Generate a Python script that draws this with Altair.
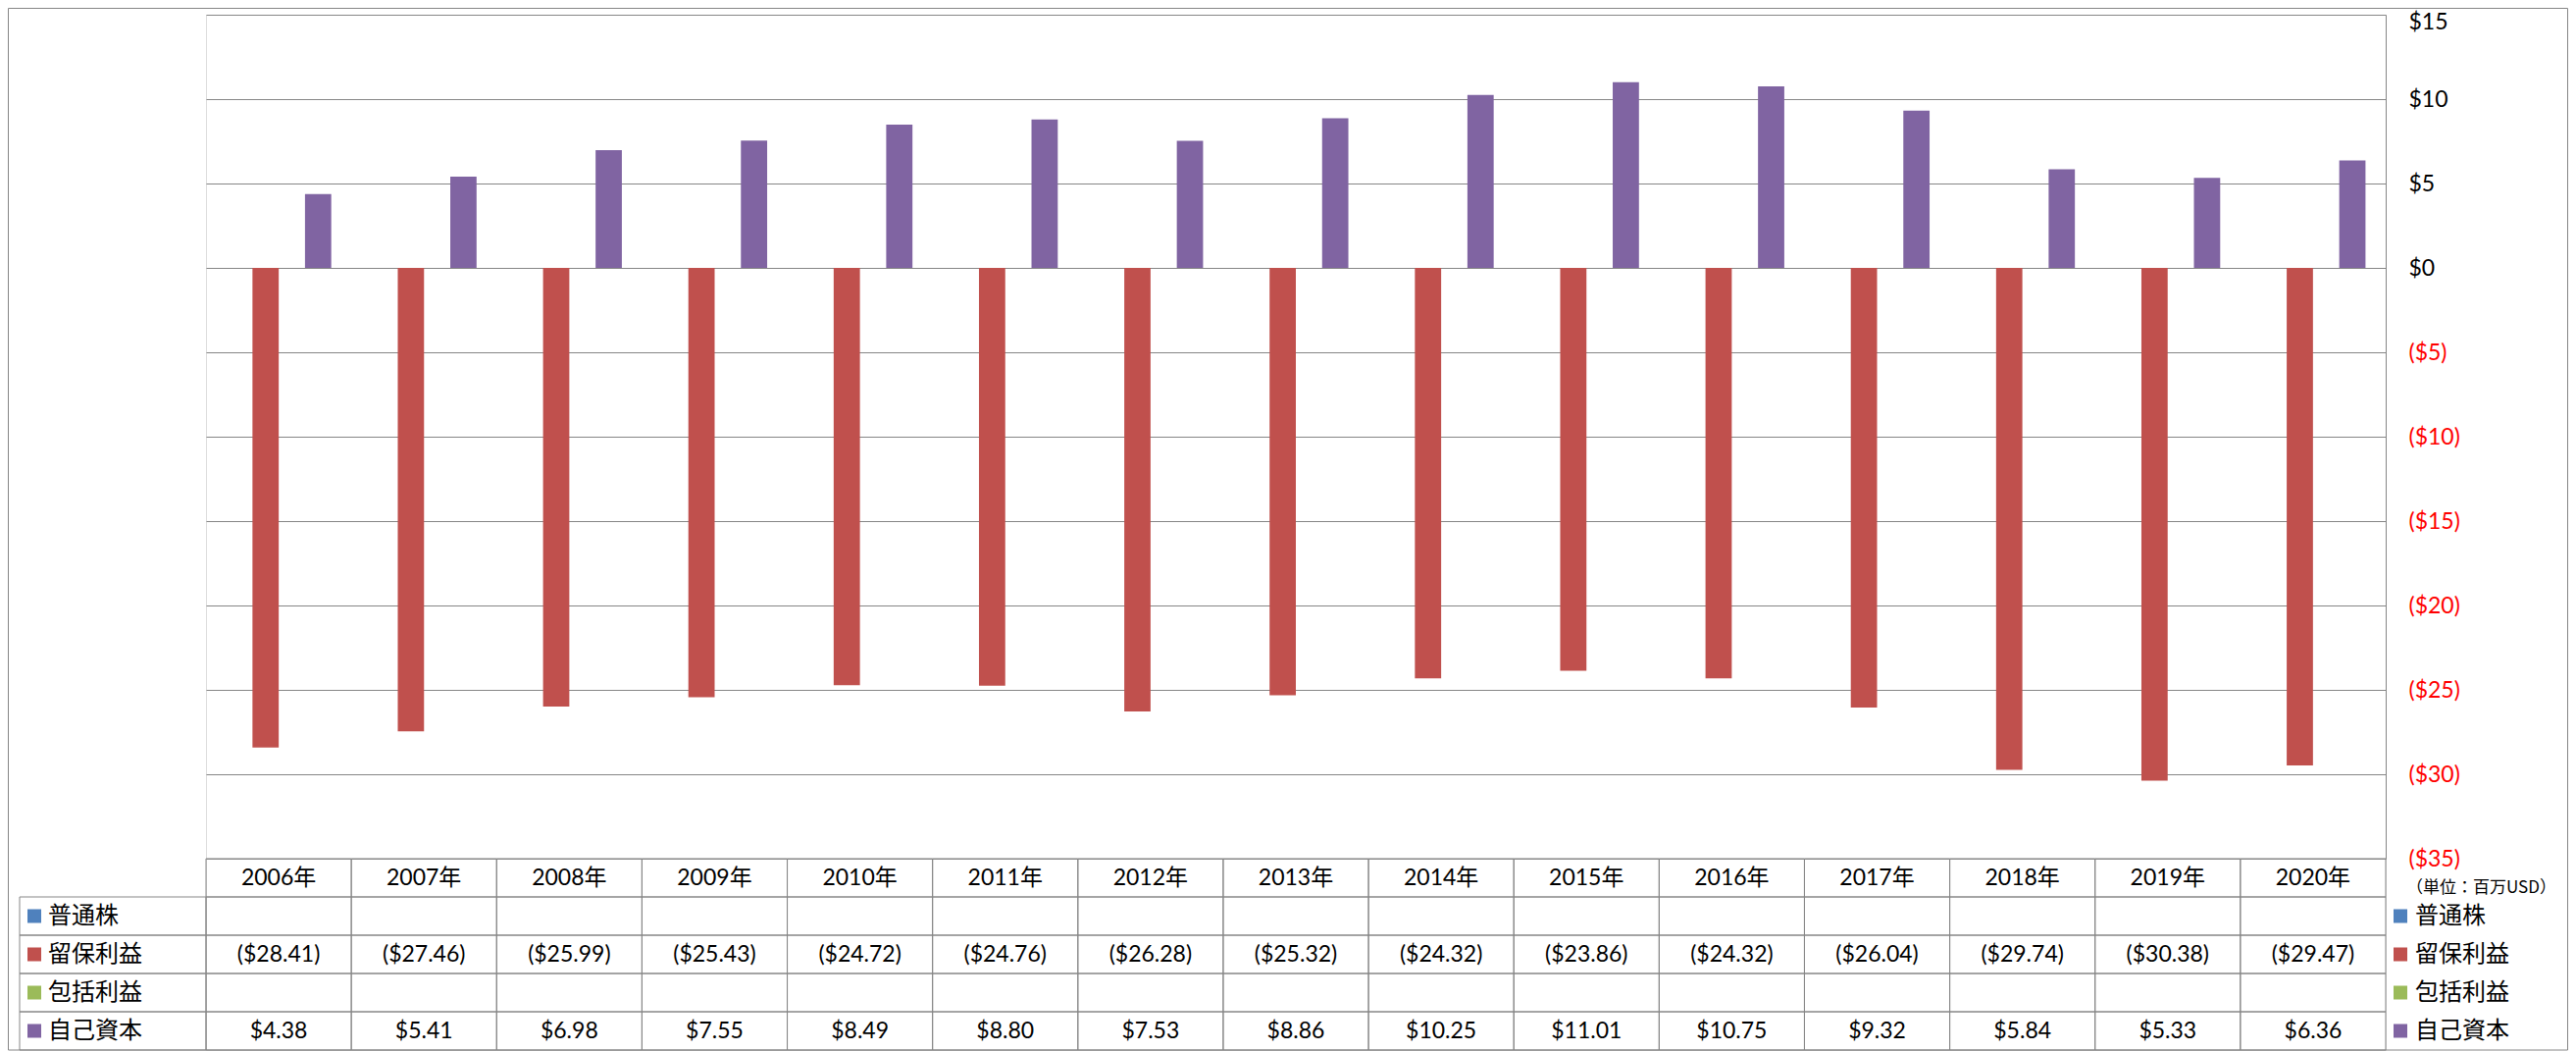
import altair as alt
import pandas as pd

# ---------------- data ----------------
years = ["2006年", "2007年", "2008年", "2009年", "2010年", "2011年", "2012年", "2013年",
         "2014年", "2015年", "2016年", "2017年", "2018年", "2019年", "2020年"]
series_names = ["普通株", "留保利益", "包括利益", "自己資本"]
series_colors = ["#4F81BD", "#C0504D", "#9BBB59", "#8064A2"]
common_stock = [None] * 15
retained_earnings = [-28.41, -27.46, -25.99, -25.43, -24.72, -24.76, -26.28, -25.32,
                     -24.32, -23.86, -24.32, -26.04, -29.74, -30.38, -29.47]
comprehensive_income = [None] * 15
equity = [4.38, 5.41, 6.98, 7.55, 8.49, 8.80, 7.53, 8.86,
          10.25, 11.01, 10.75, 9.32, 5.84, 5.33, 6.36]
y_ticks = [15, 10, 5, 0, -5, -10, -15, -20, -25, -30, -35]
unit_label = "（単位：百万USD）"
header_key = "header"

# ---------------- layout ----------------
W = 2222
PLOT_H = 860
ROW_H = 39
H = PLOT_H + ROW_H * 5
GRID = "#868686"
NUM_FONT = "Lato, 'Noto Sans CJK JP', sans-serif"
JP_FONT = "'Noto Sans CJK JP', sans-serif"

all_series = [common_stock, retained_earnings, comprehensive_income, equity]
table_rows = [header_key] + series_names


def fmt(v):
    if v is None:
        return ""
    return f"(${abs(v):.2f})" if v < 0 else f"${v:.2f}"


bar_records = []
for s, vals in zip(series_names, all_series):
    for yr, v in zip(years, vals):
        if v is not None:
            bar_records.append({"year": yr, "series": s, "value": v})
bars_df = pd.DataFrame(bar_records)

cell_records = []
for i, yr in enumerate(years):
    cell_records.append({"year": yr, "row": header_key, "text": yr})
    for s, vals in zip(series_names, all_series):
        cell_records.append({"year": yr, "row": s, "text": fmt(vals[i])})
cells_df = pd.DataFrame(cell_records)

legend_df = pd.DataFrame({"row": series_names, "series": series_names})
unit_df = pd.DataFrame({"row": [header_key], "text": [unit_label]})
frame_df = pd.DataFrame({"k": [0]})

color_scale = alt.Scale(domain=series_names, range=series_colors)

# ---------------- bars ----------------
bars = alt.Chart(bars_df).mark_bar().encode(
    x=alt.X("year:N", sort=years,
            scale=alt.Scale(domain=years, paddingInner=0.277, paddingOuter=0.139),
            axis=None),
    xOffset=alt.XOffset("series:N",
                        scale=alt.Scale(domain=series_names, paddingInner=0, paddingOuter=0)),
    y=alt.Y("value:Q",
            scale=alt.Scale(domain=[-35, 15], range=[PLOT_H, 0], nice=False, zero=False),
            axis=alt.Axis(orient="right", values=y_ticks, title=None,
                          grid=True, gridColor=GRID, gridWidth=1,
                          domain=True, domainColor=GRID, domainWidth=1,
                          ticks=False, labelPadding=23, labelFontSize=23,
                          labelFont=NUM_FONT, labelAlign="left", labelBaseline="middle",
                          labelOffset={"condition": {"test": "datum.value >= 15", "value": 7},
                                       "value": 0},
                          labelExpr="datum.value < 0 ? '($' + abs(datum.value) + ')' : '$' + datum.value",
                          labelColor={"condition": {"test": "datum.value < 0", "value": "#FF0000"},
                                      "value": "#000000"})),
    color=alt.Color("series:N", scale=color_scale, legend=None),
)

# ---------------- data table ----------------
tx = alt.X("year:N", sort=years,
           scale=alt.Scale(domain=years, paddingInner=0, paddingOuter=0), axis=None)
ty = alt.Y("row:N", sort=table_rows,
           scale=alt.Scale(domain=table_rows, range=[PLOT_H, H], paddingInner=0, paddingOuter=0),
           axis=None)

cells = alt.Chart(cells_df).mark_rect(fill=None, stroke=GRID, strokeWidth=1).encode(x=tx, y=ty)

cell_text = alt.Chart(cells_df).mark_text(
    font=NUM_FONT, fontSize=23, color="#000000", baseline="middle", align="center"
).encode(x=tx, y=ty, text="text:N")

left_cells = alt.Chart(legend_df).mark_rect(fill=None, stroke=GRID, strokeWidth=1).encode(
    x=alt.value(-190), x2=alt.value(0), y=ty)

left_keys = alt.Chart(legend_df).mark_square(size=196, opacity=1).encode(
    x=alt.value(-175), y=ty, color=alt.Color("series:N", scale=color_scale, legend=None))

left_text = alt.Chart(legend_df).mark_text(
    font=JP_FONT, fontSize=24, color="#000000", align="left", baseline="middle"
).encode(x=alt.value(-161), y=ty, text="series:N")

right_keys = alt.Chart(legend_df).mark_square(size=196, opacity=1).encode(
    x=alt.value(2237), y=ty, color=alt.Color("series:N", scale=color_scale, legend=None))

right_text = alt.Chart(legend_df).mark_text(
    font=JP_FONT, fontSize=24, color="#000000", align="left", baseline="middle"
).encode(x=alt.value(2252), y=ty, text="series:N")

unit_text = alt.Chart(unit_df).mark_text(
    font=JP_FONT, fontSize=17, color="#000000", align="left", baseline="middle", dy=10
).encode(x=alt.value(2243), y=ty, text="text:N")

frame = alt.Chart(frame_df).mark_rect(fill=None, stroke=GRID, strokeWidth=1).encode(
    x=alt.value(-201.5), x2=alt.value(W + 185.5), y=alt.value(-6.5), y2=alt.value(H))

chart = alt.layer(
    frame, cells, left_cells, bars, cell_text, left_keys, left_text,
    right_keys, right_text, unit_text
).resolve_scale(
    x="independent", y="independent"
).properties(
    width=W, height=H,
    padding={"left": 202, "top": 7, "right": 186, "bottom": 1},
    autosize=alt.AutoSizeParams(type="none"),
).configure_view(stroke=None).configure(background="white")

chart.save("out.html", embed_options={"renderer": "svg", "actions": False})
